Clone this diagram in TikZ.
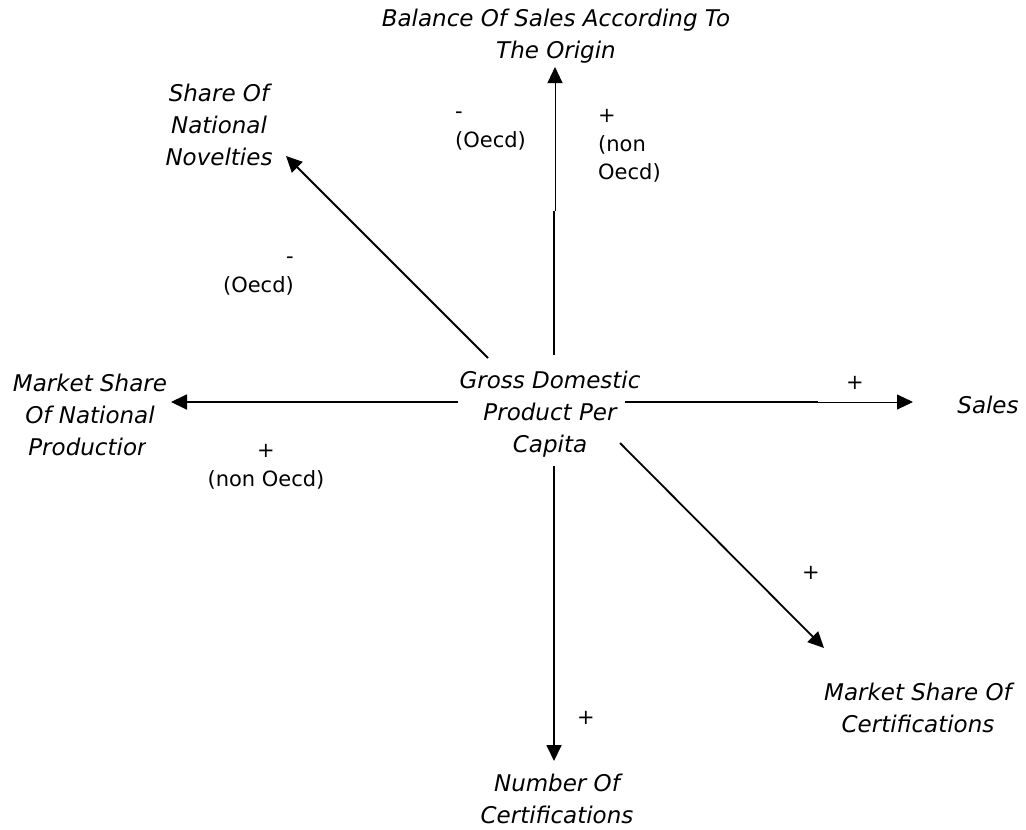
\documentclass[tikz,border=0pt]{standalone}
\usepackage{fontspec}
\setmainfont{DejaVu Sans}
\usetikzlibrary{arrows.meta}
\begin{document}
\begin{tikzpicture}[x=1pt,y=-1pt,
  concept/.style={font=\fontsize{23}{32}\selectfont\itshape, align=center, inner sep=0pt},
  sign/.style={font=\fontsize{21}{28.5}\selectfont, inner sep=0pt},
  link/.style={line width=1.8pt, -{Triangle[length=16pt,width=15pt]}},
  stem/.style={line width=1.8pt},
  thinlink/.style={line width=0.9pt, -{Triangle[length=16pt,width=15pt]}},
]
\useasboundingbox (0,0) rectangle (1026,830);

% concepts
\node[concept] (gdp) at (550,414) {Gross Domestic\\Product Per\\Capita};
\node[concept] (bal) at (556,36) {Balance Of Sales According To\\The Origin};
\node[concept] (novel) at (219,125) {Share Of\\National\\Novelties};
\begin{scope}
  \clip (0,0) -- (440,0) -- (440,432) -- (145,432) -- (145,475) -- (0,475) -- cycle;
  \node[concept] (mnp) at (90,415) {Market Share\\Of National\\Production};
\end{scope}
\node[concept] (sales) at (988,405) {Sales};
\node[concept] (msc) at (918,708) {Market Share Of\\Certifications};
\node[concept] (noc) at (557,799) {Number Of\\Certifications};

% connector end points
\coordinate (gdp-w) at (458,402);
\coordinate (gdp-e) at (625,402);
\coordinate (gdp-n) at (554,355);
\coordinate (gdp-s) at (554,466);
\coordinate (gdp-nw) at (488,358);
\coordinate (gdp-se) at (620,443);
\coordinate (mnp-tip) at (171,402);
\coordinate (sales-mid) at (818,402);
\coordinate (sales-tip) at (913,402);
\coordinate (bal-mid) at (554,211);
\coordinate (bal-mid2) at (555,211);
\coordinate (bal-tip) at (555,67);
\coordinate (noc-tip) at (554,761);
\coordinate (novel-tip) at (286,156);
\coordinate (msc-tip) at (824,648);

% connectors
\draw[link] (gdp-w) -- (mnp-tip);
\draw[stem] (gdp-e) -- (sales-mid);
\draw[thinlink] (sales-mid) -- (sales-tip);
\draw[stem] (gdp-n) -- (bal-mid);
\draw[thinlink] (bal-mid2) -- (bal-tip);
\draw[link] (gdp-s) -- (noc-tip);
\draw[link] (gdp-nw) -- (novel-tip);
\draw[link] (gdp-se) -- (msc-tip);

% polarity labels
\node[sign, align=left, anchor=west] (s-bal-oecd) at (455,131) {-\\(Oecd)};
\node[sign, align=left, anchor=west] (s-bal-non) at (598,146) {+\\(non\\Oecd)};
\node[sign, align=right, anchor=east] (s-novel) at (294,276) {-\\(Oecd)};
\node[sign, align=center] (s-mnp) at (266,467) {+\\(non Oecd)};
\node[sign] (s-sales) at (855,383) {+};
\node[sign] (s-msc) at (811,573) {+};
\node[sign] (s-noc) at (586,718) {+};
\end{tikzpicture}
\end{document}
